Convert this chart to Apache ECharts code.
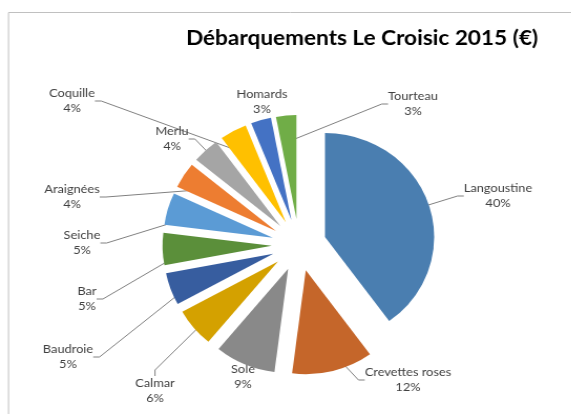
<!DOCTYPE html>
<html>
<head>
<meta charset="utf-8">
<script src="https://cdn.jsdelivr.net/npm/echarts@6/dist/echarts.min.js"></script>
<style>
html,body{margin:0;padding:0;background:#fff;overflow:hidden;}
#wrap{width:571px;height:414px;overflow:hidden;position:relative;}
#chart{width:544px;height:414px;transform:scaleX(1.05);transform-origin:0 0;}
</style>
</head>
<body>
<div id="wrap"><div id="chart"></div></div>
<script>
// Data
var categories = ['Langoustine', 'Crevettes roses', 'Sole', 'Calmar', 'Baudroie', 'Bar', 'Seiche', 'Araignées', 'Merlu', 'Coquille', 'Homards', 'Tourteau'];
var values = [40, 12, 9, 6, 5, 5, 5, 4, 4, 4, 3, 3];
var titleText = 'Débarquements Le Croisic 2015 (€)';

// Styles / layout (the original picture is slightly wider than tall: 1.05 horizontal stretch)
var stretchX = 1.05;
var colors = ['#4A7EB0', '#C5662A', '#898989', '#D4A100', '#375D9F', '#5B8F3A', '#5B9BD5', '#ED7D31', '#A5A5A5', '#FFC000', '#4472C4', '#70AD47'];
// label block centres in page pixels
var labelCenters = [[498, 196], [408, 380], [243, 377], [155, 391], [68, 357], [87, 299], [82, 243], [72, 197], [172, 139], [72, 101], [262, 102], [413, 104]];
var noLine = {'Sole': true, 'Homards': true};

var chart = echarts.init(document.getElementById('chart'), null, {renderer: 'canvas'});

var sliceData = categories.map(function (c, i) {
  return {name: c, value: values[i], selected: true, itemStyle: {color: colors[i]}};
});
var labelData = categories.map(function (c, i) {
  return {name: c, value: values[i], labelLine: {show: !noLine[c]}};
});

var pieCenter = [299 / stretchX, 245];
var pieRadius = 104;

var option = {
  animation: false,
  graphic: [{
    type: 'rect',
    shape: {x: 8.5 / stretchX, y: 12.5, width: 700, height: 600},
    style: {fill: 'none', stroke: '#C0C0C0', lineWidth: 1},
    silent: true
  }],
  title: {
    text: titleText,
    left: 186 / stretchX,
    top: 27,
    padding: 0,
    textStyle: {fontFamily: 'Lato', fontWeight: 'bold', fontSize: 21.5, color: '#000'}
  },
  series: [{
    // labels and leader lines (sectors are transparent; drawn under the slices)
    type: 'pie',
    z: 1,
    silent: true,
    center: pieCenter,
    radius: pieRadius,
    startAngle: 90,
    clockwise: true,
    avoidLabelOverlap: false,
    emphasis: {disabled: true},
    itemStyle: {color: 'rgba(0,0,0,0)'},
    data: labelData,
    label: {
      show: true,
      position: 'outside',
      fontFamily: 'Lato',
      fontSize: 12.2,
      lineHeight: 15,
      color: '#404040',
      align: 'center',
      formatter: function (p) { return p.name + '\n' + Math.round(p.percent) + '%'; }
    },
    labelLine: {
      show: true,
      length: 10,
      length2: 6,
      lineStyle: {color: '#808080', width: 1}
    },
    labelLayout: function (params) {
      var c = labelCenters[params.dataIndex];
      return {x: c[0] / stretchX, y: c[1], align: 'center', verticalAlign: 'middle'};
    }
  }, {
    // exploded slices
    type: 'pie',
    z: 2,
    center: pieCenter,
    radius: pieRadius,
    startAngle: 90,
    clockwise: true,
    selectedMode: 'multiple',
    selectedOffset: 26,
    emphasis: {scale: false},
    label: {show: false},
    labelLine: {show: false},
    data: sliceData
  }]
};
chart.setOption(option);
</script>
</body>
</html>
